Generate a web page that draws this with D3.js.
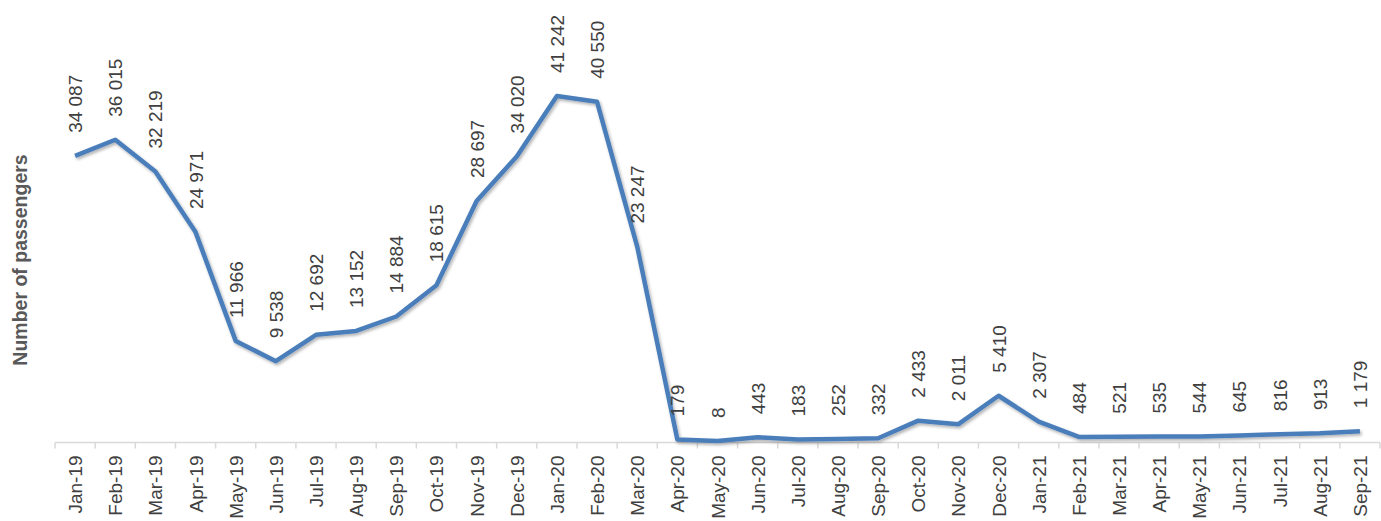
<!DOCTYPE html>
<html>
<head>
<meta charset="utf-8">
<script src="https://cdn.jsdelivr.net/npm/d3@7"></script>
<style>
  body { margin: 0; background: #fff; }
  text { font-family: "Liberation Sans", Arial, sans-serif; }
</style>
</head>
<body>
<div id="chart"></div>
<script>
var months = ["Jan-19", "Feb-19", "Mar-19", "Apr-19", "May-19", "Jun-19", "Jul-19", "Aug-19", "Sep-19",
    "Oct-19", "Nov-19", "Dec-19", "Jan-20", "Feb-20", "Mar-20", "Apr-20", "May-20", "Jun-20", "Jul-20",
    "Aug-20", "Sep-20", "Oct-20", "Nov-20", "Dec-20", "Jan-21", "Feb-21", "Mar-21", "Apr-21", "May-21",
    "Jun-21", "Jul-21", "Aug-21", "Sep-21"];

var passengers = [34087, 36015, 32219, 24971, 11966, 9538, 12692, 13152, 14884,
    18615, 28697, 34020, 41242, 40550, 23247, 179, 8, 443, 183,
    252, 332, 2433, 2011, 5410, 2307, 484, 521, 535, 544,
    645, 816, 913, 1179];

var yTitle = "Number of passengers";

var width = 1381, height = 521;

var svg = d3.select("#chart")
    .append("svg")
    .attr("width", width)
    .attr("height", height);

var defs = svg.append("defs");
var f = defs.append("filter")
    .attr("id", "shadow")
    .attr("x", "-5%").attr("y", "-5%")
    .attr("width", "110%").attr("height", "120%");
f.append("feDropShadow")
    .attr("dx", 1.5)
    .attr("dy", 2)
    .attr("stdDeviation", 1.5)
    .attr("flood-color", "#000")
    .attr("flood-opacity", 0.3);

var x = d3.scaleBand()
    .domain(months)
    .range([55, 1380])
    .padding(0);

var y = d3.scaleLinear()
    .domain([0, 52600])
    .range([441, 1]);

var fmt = d3.formatLocale({ decimal: ".", thousands: " ", grouping: [3], currency: ["", ""] }).format(",d");

function cx(i) { return x(months[i]) + x.bandwidth() / 2; }

// x axis line + ticks at category boundaries
var axis = svg.append("g").attr("class", "x-axis");
var y0 = y(0) + 1.5;
axis.append("line")
    .attr("x1", x.range()[0])
    .attr("x2", x.range()[1])
    .attr("y1", y0)
    .attr("y2", y0)
    .attr("stroke", "#d9d9d9")
    .attr("stroke-width", 1.5);

var bounds = months.map(function(m) { return x(m); }).concat([x.range()[1]]);
axis.selectAll(".tick")
    .data(bounds)
    .enter()
    .append("line")
    .attr("x1", function(d) { return d; })
    .attr("x2", function(d) { return d; })
    .attr("y1", y0)
    .attr("y2", y0 + 6)
    .attr("stroke", "#d9d9d9")
    .attr("stroke-width", 1.5);

axis.selectAll(".lbl")
    .data(months)
    .enter()
    .append("text")
    .attr("transform", function(d, i) { return "translate(" + (cx(i) + 7) + "," + (y0 + 13) + ") rotate(-90)"; })
    .attr("text-anchor", "end")
    .attr("font-size", 19)
    .attr("fill", "#404040")
    .text(function(d) { return d; });

// y title
svg.append("text")
    .attr("transform", "translate(27,260) rotate(-90)")
    .attr("text-anchor", "middle")
    .attr("font-size", 19.5)
    .attr("font-weight", "bold")
    .attr("fill", "#595959")
    .text(yTitle);

// line
var line = d3.line()
    .x(function(d, i) { return cx(i); })
    .y(function(d) { return y(d); });

svg.append("path")
    .datum(passengers)
    .attr("d", line)
    .attr("fill", "none")
    .attr("stroke", "#4a7ebb")
    .attr("stroke-width", 4.5)
    .attr("stroke-linejoin", "round")
    .attr("filter", "url(#shadow)");

// data labels
svg.selectAll(".val")
    .data(passengers)
    .enter()
    .append("text")
    .attr("transform", function(d, i) { return "translate(" + (cx(i) + 7) + "," + (y(d) - 23) + ") rotate(-90)"; })
    .attr("text-anchor", "start")
    .attr("font-size", 19)
    .attr("fill", "#404040")
    .text(function(d) { return fmt(d); });
</script>
</body>
</html>
